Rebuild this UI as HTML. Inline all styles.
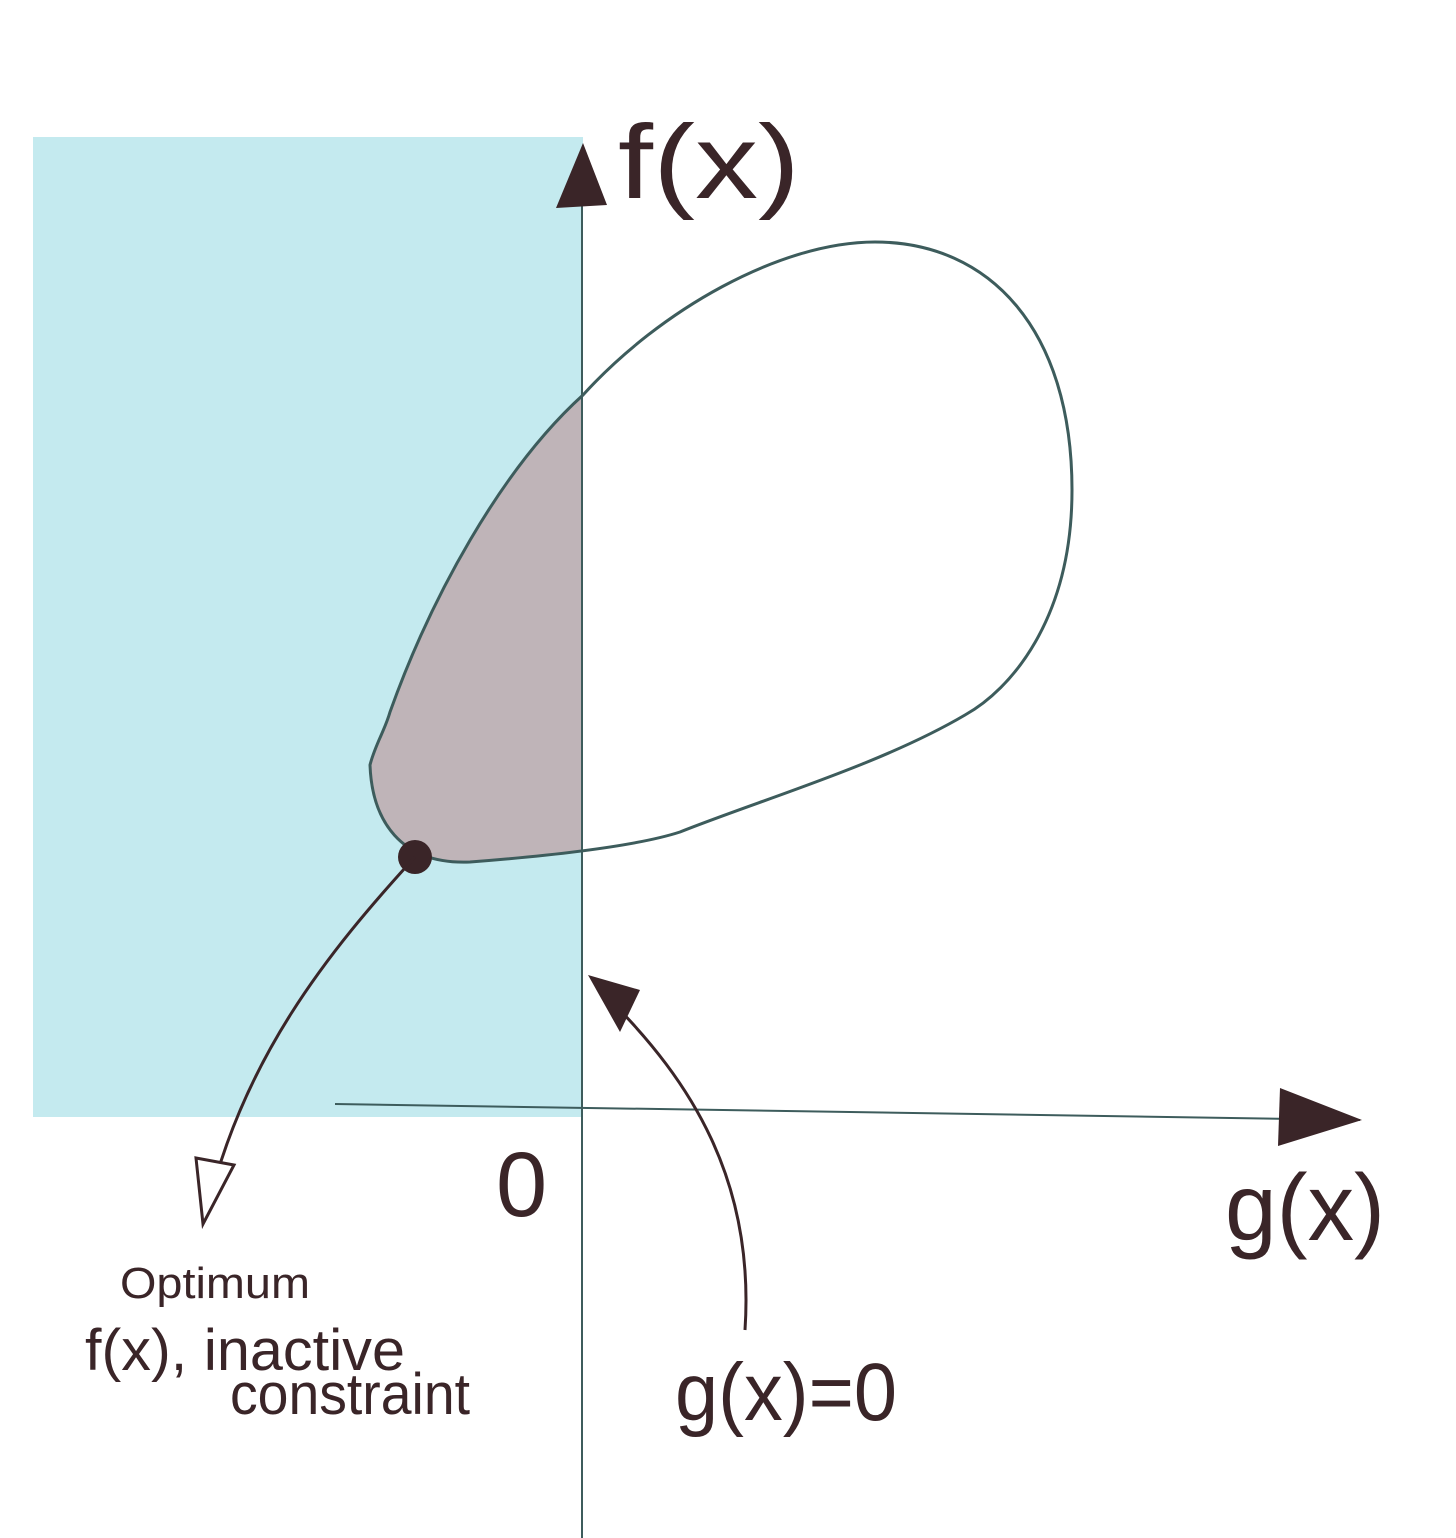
<!DOCTYPE html>
<html><head><meta charset="utf-8"><style>
html,body{margin:0;padding:0;background:#fff;}
svg{display:block;}
text{font-family:"Liberation Sans",sans-serif;fill:#3a2528;font-weight:300;}
</style></head><body>
<svg width="1456" height="1538" viewBox="0 0 1456 1538">
<rect x="33" y="137" width="550" height="980" fill="#c4eaef"/>
<path d="M583,395 C500,470 430,600 390,712 C385,730 375,745 370,765 C372,820 400,865 470,862 C520,858 560,853 583,850 Z" fill="#bfb4b8"/>
<path d="M583,395 C660,310 780,242 875,242 C990,242 1072,330 1072,490 C1072,620 1010,690 965,715 C880,765 760,800 680,832 C640,845 560,855 470,862 C400,865 372,820 370,765 C375,745 385,730 390,712 C430,600 500,470 583,395 Z" fill="none" stroke="#3d5c5c" stroke-width="3"/>
<line x1="582" y1="160" x2="582" y2="1538" stroke="#3d5c5c" stroke-width="2"/>
<polygon points="556,208 583,143 607,205" fill="#3a2528"/>
<line x1="335" y1="1104" x2="1360" y2="1120" stroke="#3d5c5c" stroke-width="2"/>
<polygon points="1280,1088 1362,1120 1278,1146" fill="#3a2528"/>
<text x="618" y="198" font-size="105" textLength="182" lengthAdjust="spacingAndGlyphs">f(x)</text>
<text x="1225" y="1240" font-size="95" textLength="160" lengthAdjust="spacingAndGlyphs">g(x)</text>
<text x="496" y="1216" font-size="92">0</text>
<circle cx="415" cy="857" r="17" fill="#3a2528"/>
<path d="M415,857 C330,950 240,1060 205,1220" fill="none" stroke="#3a2528" stroke-width="3"/>
<polygon points="196,1158 234,1165 203,1224" fill="#fff" stroke="#3a2528" stroke-width="3"/>
<path d="M745,1330 C755,1180 690,1080 610,1000" fill="none" stroke="#3a2528" stroke-width="3"/>
<polygon points="588,975 640,990 620,1032" fill="#3a2528"/>
<text x="120" y="1298" font-size="44" textLength="190" lengthAdjust="spacingAndGlyphs">Optimum</text>
<text x="85" y="1370" font-size="58" textLength="320" lengthAdjust="spacingAndGlyphs">f(x), inactive</text>
<text x="230" y="1414" font-size="58" textLength="240" lengthAdjust="spacingAndGlyphs">constraint</text>
<text x="675" y="1420" font-size="82" textLength="222" lengthAdjust="spacingAndGlyphs">g(x)=0</text>
</svg>
</body></html>
